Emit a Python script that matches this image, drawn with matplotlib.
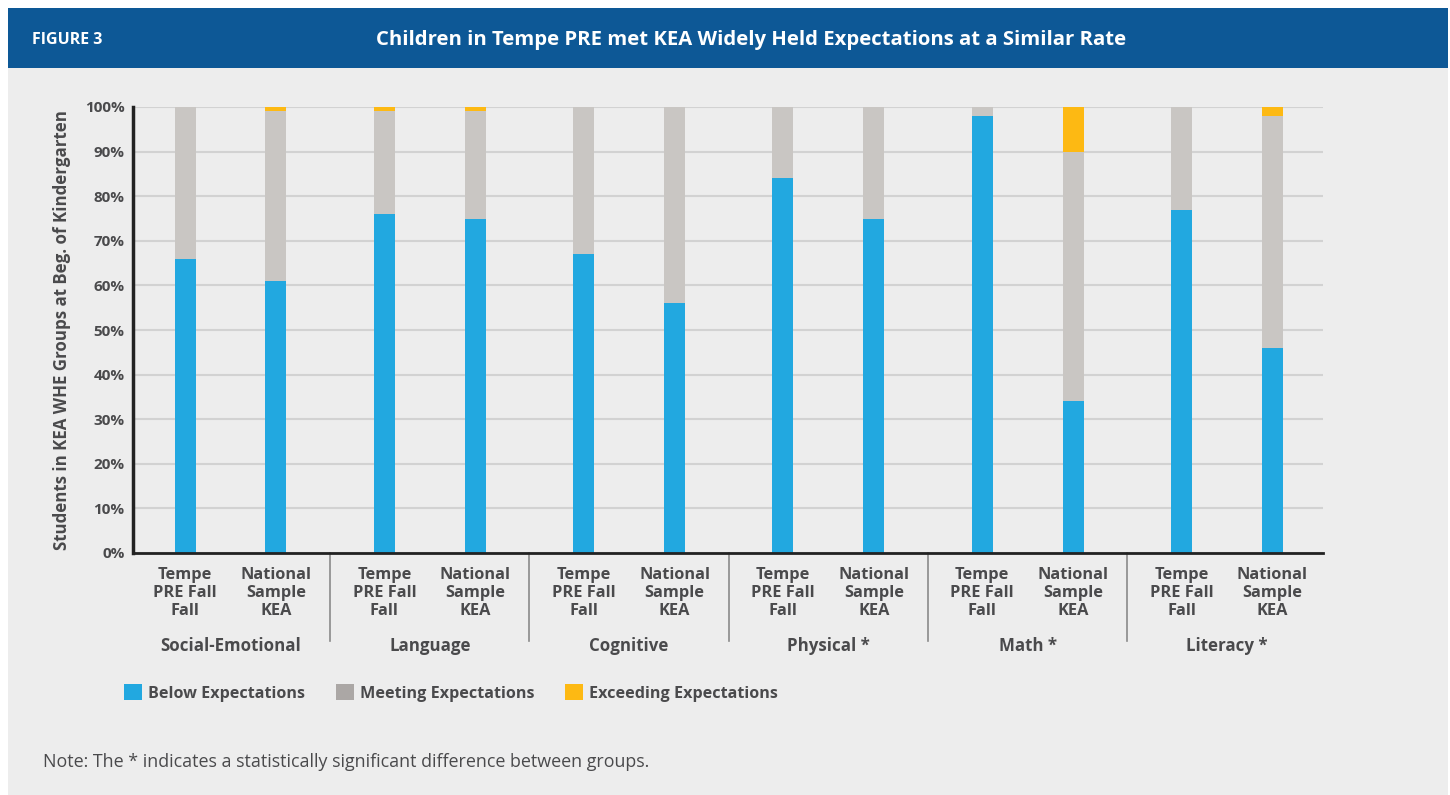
import matplotlib
matplotlib.use("Agg")
import matplotlib.pyplot as plt
from matplotlib.patches import Rectangle, Patch
from matplotlib.transforms import blended_transform_factory
import numpy as np

categories = ["Social-Emotional", "Language", "Cognitive", "Physical *", "Math *", "Literacy *"]
group_labels = ["Tempe\nPRE Fall\nFall", "National\nSample\nKEA"]
below_tempe = [66, 76, 67, 84, 98, 77]
below_nat = [61, 75, 56, 75, 34, 46]
meet_tempe = [34, 23, 33, 16, 2, 23]
meet_nat = [38, 24, 44, 25, 56, 52]
exceed_tempe = [0, 1, 0, 0, 0, 0]
exceed_nat = [1, 1, 0, 0, 10, 2]
series_names = ["Below Expectations", "Meeting Expectations", "Exceeding Expectations"]
yticks = [0, 10, 20, 30, 40, 50, 60, 70, 80, 90, 100]

plt.rcParams['font.family'] = ['Open Sans', 'DejaVu Sans']
TXT = "#4a4a4c"
BLUE = "#22A8E0"
GRAY = "#C9C6C3"
GRAY_LEG = "#ABA7A5"
YEL = "#FDB913"

W, H = 1450, 795
fig = plt.figure(figsize=(W / 100, H / 100), dpi=100)
fig.patch.set_facecolor("white")

def fx(px):
    return px / W

def fy(py):
    return 1 - py / H

# background panels
fig.add_artist(Rectangle((fx(8), fy(795)), fx(1440), 727 / H, transform=fig.transFigure,
                         facecolor="#EDEDED", edgecolor="none", zorder=0))
fig.add_artist(Rectangle((fx(8), fy(68)), fx(1440), 60 / H, transform=fig.transFigure,
                         facecolor="#0D5896", edgecolor="none", zorder=0))
fig.text(fx(32), fy(40), "FIGURE 3", color="white", fontsize=11.5, fontweight="bold",
         va="center", ha="left")
fig.text(fx(751), fy(40), "Children in Tempe PRE met KEA Widely Held Expectations at a Similar Rate",
         color="white", fontsize=14.6, fontweight="bold", va="center", ha="center")

ax_left, ax_right, ax_top, ax_bot = 133, 1323, 107, 553
ax = fig.add_axes([fx(ax_left), fy(ax_bot), fx(ax_right - ax_left), (ax_bot - ax_top) / H])
ax.set_facecolor("none")

x = np.arange(len(categories))
off = 0.228
bw = 0.105
xt = x - off
xn = x + off
bt = np.array(below_tempe); bn = np.array(below_nat)
mt = np.array(meet_tempe); mn = np.array(meet_nat)
et = np.array(exceed_tempe); en = np.array(exceed_nat)

for xs, b, m, e in [(xt, bt, mt, et), (xn, bn, mn, en)]:
    ax.bar(xs, b, width=bw, color=BLUE, zorder=3)
    ax.bar(xs, m, width=bw, bottom=b, color=GRAY, zorder=3)
    ax.bar(xs, e, width=bw, bottom=b + m, color=YEL, zorder=3)

px_per_unit = 199.3
c0 = 230.5
ax.set_xlim((ax_left - c0) / px_per_unit, (ax_right - c0) / px_per_unit)
ax.set_ylim(0, 100)
ax.set_yticks(yticks)
ax.set_yticklabels([f"{v}%" for v in yticks], fontsize=11, fontweight="bold", color=TXT)
ax.yaxis.grid(True, color="#D2D2D2", linewidth=1.5, zorder=0)
ax.set_axisbelow(True)
ax.tick_params(axis="y", length=0, pad=6)

pos = np.sort(np.concatenate([xt, xn]))
labels = []
for i in range(len(categories)):
    labels += group_labels
ax.set_xticks(pos)
ax.set_xticklabels(labels, fontsize=11.8, fontweight="bold", color=TXT, linespacing=1.18)
ax.tick_params(axis="x", length=0, pad=10)

for s in ["top", "right"]:
    ax.spines[s].set_visible(False)
ax.spines["left"].set_color("#222222")
ax.spines["left"].set_linewidth(2.5)
ax.spines["bottom"].set_color("#222222")
ax.spines["bottom"].set_linewidth(2)
ax.spines["left"].set_zorder(4)
ax.spines["bottom"].set_zorder(4)

ax.set_ylabel("Students in KEA WHE Groups at Beg. of Kindergarten", fontsize=12.2,
              fontweight="bold", color=TXT, labelpad=10)

trans = blended_transform_factory(ax.transData, fig.transFigure)
for i in range(1, len(categories)):
    ax.plot([i - 0.5, i - 0.5], [fy(553), fy(641)], transform=trans, color="#8a8a8a",
            linewidth=1.2, clip_on=False)
for i, c in enumerate(categories):
    ax.text(i, fy(646), c, transform=trans, ha="center", va="center", fontsize=12.2,
            fontweight="bold", color=TXT)

handles = [Patch(facecolor=BLUE), Patch(facecolor=GRAY_LEG), Patch(facecolor=YEL)]
fig.legend(handles, series_names, loc="center left", bbox_to_anchor=(fx(124), fy(693)),
           ncol=3, frameon=False, handlelength=1.1, handleheight=1.1,
           handletextpad=0.4, columnspacing=1.9, borderpad=0, borderaxespad=0,
           prop={"weight": "bold", "size": 11.6})
for t in fig.legends[0].get_texts():
    t.set_color(TXT)

fig.text(fx(43), fy(762), "Note: The * indicates a statistically significant difference between groups.",
         fontsize=12.85, color=TXT, va="center", ha="left")

fig.savefig("out.png", dpi=100, facecolor=fig.get_facecolor())
